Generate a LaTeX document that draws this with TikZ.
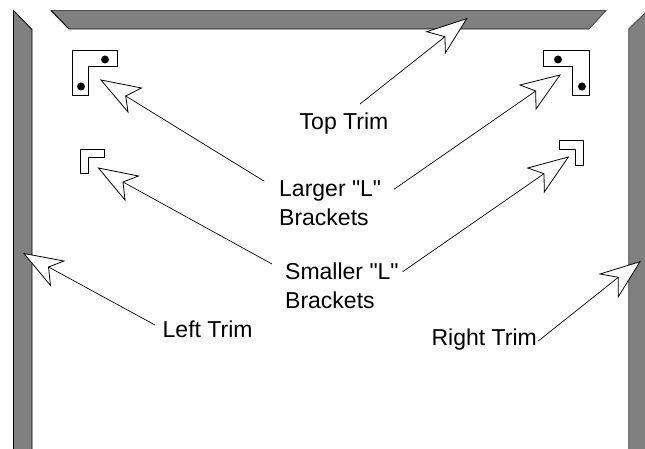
\documentclass[tikz,border=0pt]{standalone}
\usepackage{fontspec}
\newfontfamily\lblfont{Liberation Sans}
\definecolor{trimgray}{HTML}{808080}
\tikzset{
  trim/.style={fill=trimgray,draw=none},
  trimedge/.style={draw=black,line width=0.9pt},
  softedge/.style={draw=black!70,line width=0.9pt},
  bracket/.style={draw=black,line width=0.9pt,fill=white,line join=miter},
  hole/.style={circle,fill=black,draw=none,minimum size=8pt,inner sep=0pt},
  label/.style={font=\lblfont\fontsize{23}{28.5}\selectfont,align=left,inner sep=0pt,text=black,anchor=base west},
  leader/.style={draw=black,line width=0.7pt},
  headshape/.style={draw=black,fill=white,line width=0.8pt,line join=miter},
}
% #1 label-side end, #2 tip, #3 wing, #4 notch, #5 wing
\newcommand{\callout}[5]{%
  \coordinate (tip) at #2; \coordinate (wa) at #3; \coordinate (nt) at #4; \coordinate (wb) at #5;
  \path[headshape] (tip) -- (wa) -- (nt) -- (wb) -- cycle;
  \draw[leader] #1 -- (nt);
}
\begin{document}
\begin{tikzpicture}[x=1pt,y=-1pt]
\useasboundingbox (0,0) rectangle (645,449);
\fill[white] (0,0) rectangle (645,449);
% trims
\path[trim] (13.5,10.5) -- (32,29.5) -- (32,449) -- (13.5,449) -- cycle;
\draw[trimedge] (13.5,449) -- (13.5,10.5) -- (32,29.5) -- (32,449);
\path[trim] (51,10.5) -- (606,10.5) -- (589,29) -- (69,29) -- cycle;
\draw[softedge] (51,10.5) -- (606,10.5) -- (589,29);
\draw[trimedge] (51,10.5) -- (69,29) -- (589,29);
\path[trim] (645,13) -- (628.7,29) -- (628.7,449) -- (645,449) -- cycle;
\draw[softedge] (645,13) -- (628.7,29) -- (628.7,449);
% large brackets
\path[bracket] (72.5,50.5) -- (117.5,50.5) -- (117.5,66) -- (88.5,66) -- (88.5,95.5) -- (72.5,95.5) -- cycle;
\node[hole] (holeA) at (105,59.5) {};
\node[hole] (holeB) at (81,86.5) {};
\path[bracket] (543.5,50.5) -- (589,50.5) -- (589,95.5) -- (572.7,95.5) -- (572.7,66) -- (543.5,66) -- cycle;
\node[hole] (holeC) at (558,59.5) {};
\node[hole] (holeD) at (582,86.5) {};
% small brackets
\path[bracket] (80.5,149.5) -- (104.5,149.5) -- (104.5,157.5) -- (88.5,157.5) -- (88.5,173.5) -- (80.5,173.5) -- cycle;
\path[bracket] (559.5,140.5) -- (583.5,140.5) -- (583.5,165) -- (575,165) -- (575,149) -- (559.5,149) -- cycle;
% labels
\node[label] (top) at (299.5,129.3) {Top Trim};
\node[label] (larger) at (279,225.3) {Larger "L"\\Brackets};
\node[label] (smaller) at (285,308) {Smaller "L"\\Brackets};
\node[label] (left) at (162.5,337.8) {Left Trim};
\node[label,anchor=base east] (right) at (537,345.7) {Right Trim};
% callouts
\callout{(360,104)}{(466.7,18.7)}{(426.7,31.7)}{(445,36.7)}{(445.3,53)}
\callout{(264.3,181.3)}{(101,80)}{(141.5,88)}{(125.7,96)}{(128,112)}
\callout{(394,189.3)}{(560,75)}{(520,85)}{(535.7,91)}{(536,109)}
\callout{(272,264)}{(98.5,168)}{(138.5,176)}{(123,182)}{(125,200)}
\callout{(402.7,271.7)}{(568.3,157)}{(527.7,168)}{(544,173.7)}{(544.3,192)}
\callout{(155,325)}{(24,253.5)}{(64,261)}{(48.5,267)}{(50.5,285.5)}
\callout{(538.3,341)}{(640,261.7)}{(600,274)}{(618.3,277.3)}{(618.3,296.7)}
\end{tikzpicture}
\end{document}
